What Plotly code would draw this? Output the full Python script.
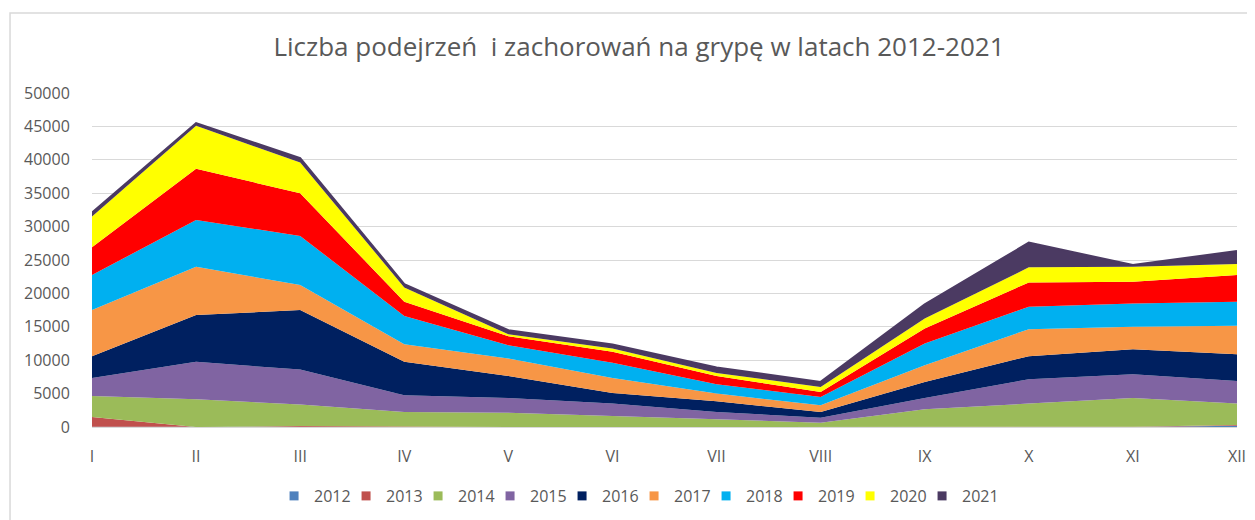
import plotly.graph_objects as go

months = ["I", "II", "III", "IV", "V", "VI", "VII", "VIII", "IX", "X", "XI", "XII"]
years = ["2012", "2013", "2014", "2015", "2016", "2017", "2018", "2019", "2020", "2021"]

v2012 = [50, 0, 0, 0, 0, 0, 0, 0, 0, 0, 0, 200]
v2013 = [1450, 0, 150, 50, 0, 0, 0, 0, 0, 0, 50, 100]
v2014 = [3150, 4150, 3200, 2200, 2150, 1600, 1150, 650, 2650, 3500, 4300, 3200]
v2015 = [2700, 5600, 5250, 2500, 2200, 1900, 1100, 750, 1700, 3650, 3550, 3400]
v2016 = [3250, 7000, 8900, 5000, 3300, 1600, 1600, 850, 2400, 3450, 3750, 4000]
v2017 = [6900, 7250, 3750, 2650, 2600, 2250, 1150, 1000, 2500, 4050, 3350, 4250]
v2018 = [5250, 7000, 7350, 4200, 2000, 2250, 1400, 1250, 3250, 3350, 3500, 3600]
v2019 = [4150, 7650, 6400, 2150, 1350, 1650, 1250, 750, 2250, 3650, 3250, 4000]
v2020 = [4600, 6450, 4600, 2150, 300, 500, 450, 750, 1500, 2250, 2250, 1650]
v2021 = [600, 400, 650, 500, 600, 600, 800, 750, 2100, 3700, 250, 1950]

series = [v2012, v2013, v2014, v2015, v2016, v2017, v2018, v2019, v2020, v2021]
colors = ["#4F81BD", "#C0504D", "#9BBB59", "#8064A2", "#002060",
          "#F79646", "#00B0F0", "#FF0000", "#FFFF00", "#4B3A62"]

FONT = "Open Sans"
GRAY = "#595959"

fig = go.Figure()
xs = list(range(len(months)))
for name, vals, col in zip(years, series, colors):
    lw = 2 if name == "2021" else 0
    fig.add_trace(go.Scatter(
        x=xs, y=vals, name=name, stackgroup="one", mode="lines",
        line=dict(color=col, width=lw), fillcolor=col, showlegend=False,
        hoverinfo="x+y+name"))
for name, col in zip(years, colors):
    fig.add_trace(go.Scatter(
        x=[None], y=[None], name=name, mode="markers",
        marker=dict(symbol="square", size=9, color=col), showlegend=True))
# invisible spacer entry so the last legend label is not clipped
fig.add_trace(go.Scatter(x=[None], y=[None], name=" ", mode="markers",
                         marker=dict(size=1, color="rgba(255,255,255,0)",
                                     line=dict(width=0)),
                         showlegend=True, hoverinfo="skip"))

fig.update_layout(
    width=1247, height=512,
    margin=dict(l=84, r=18, t=85, b=93),
    paper_bgcolor="white", plot_bgcolor="white",
    font=dict(family=FONT, color=GRAY, size=16),
    title=dict(text="Liczba podejrzeń  i zachorowań na grypę w latach 2012-2021",
               x=0.506, xanchor="center", y=1 - 39 / 512, yanchor="middle",
               font=dict(family=FONT, size=26, color=GRAY)),
    xaxis=dict(tickmode="array", tickvals=xs, ticktext=months, range=[0, 11],
               showgrid=False, zeroline=False, showline=False, automargin=False,
               ticks="outside", ticklen=15, tickcolor="rgba(0,0,0,0)",
               tickfont=dict(family=FONT, size=16, color=GRAY)),
    yaxis=dict(range=[0, 50000], dtick=5000, tickformat="d",
               showgrid=True, gridcolor="#D9D9D9", gridwidth=1,
               zeroline=True, zerolinecolor="#D9D9D9", zerolinewidth=1,
               showline=False, ticks="outside", ticklen=18, automargin=False,
               tickcolor="rgba(0,0,0,0)",
               tickfont=dict(family=FONT, size=16, color=GRAY)),
    legend=dict(orientation="h", xref="paper", x=0.159, xanchor="left",
                yref="container", y=1 - 488 / 512, yanchor="middle",
                traceorder="normal",
                font=dict(family=FONT, size=16, color=GRAY),
                itemwidth=30, entrywidth=27, entrywidthmode="pixels"),
    shapes=[dict(type="rect", xref="paper", yref="paper",
                 x0=-0.0716, x1=1.03, y0=-0.32, y1=1.2395,
                 line=dict(color="#D9D9D9", width=1.5), layer="below")],
)

fig.write_html("out.html")
